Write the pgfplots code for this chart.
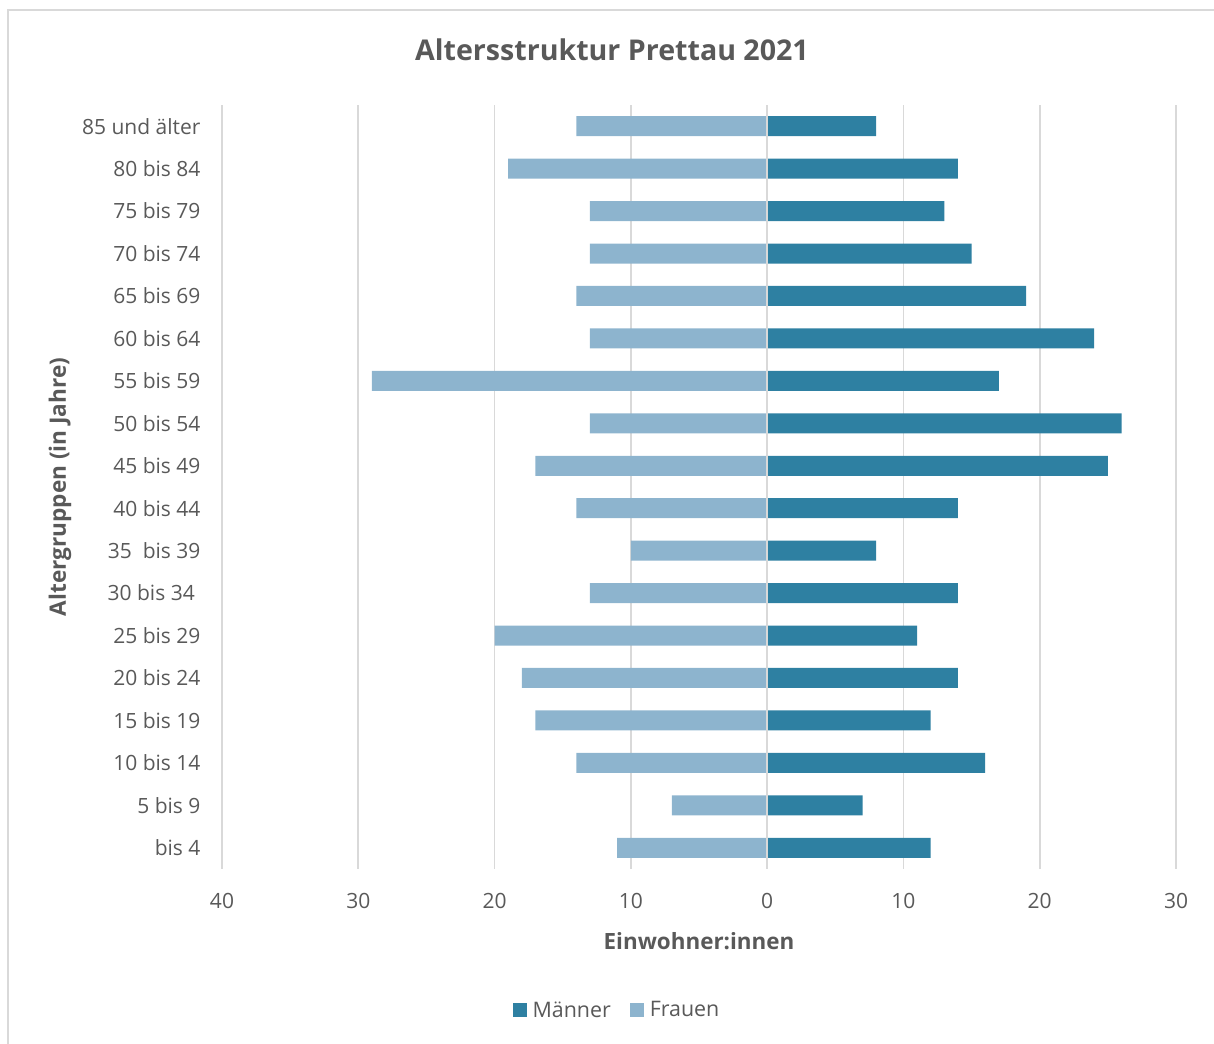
\documentclass[border=0pt]{standalone}
\usepackage{pgfplots}
\pgfplotsset{compat=1.18}
\usepackage{pgfplotstable}
\usepackage{fontspec}
\setmainfont{Open Sans}
\definecolor{maenner}{HTML}{2E80A2}
\definecolor{frauen}{HTML}{8DB4CE}
\definecolor{txt}{HTML}{595959}
\definecolor{gridc}{HTML}{D9D9D9}
\definecolor{framec}{HTML}{D9D9D9}

\pgfplotstableread{
idx maenner frauen
0 12 -11
1 7 -7
2 16 -14
3 12 -17
4 14 -18
5 11 -20
6 14 -13
7 8 -10
8 14 -14
9 25 -17
10 26 -13
11 17 -29
12 24 -13
13 19 -14
14 15 -13
15 13 -13
16 14 -19
17 8 -14
}\pyramid

\begin{document}
\begin{tikzpicture}[x=1pt,y=1pt]
\path[use as bounding box] (0,0) rectangle (1214,1043);
\draw[framec, line width=1.5pt] (8,-5) -- (8,1033) -- (1220,1033);
\node[txt, font=\bfseries\fontsize{28.6}{34}\selectfont] at (612,993) {Altersstruktur Prettau 2021};
\node[txt, font=\bfseries\fontsize{22.6}{27}\selectfont, rotate=90] at (60,556) {Altergruppen (in Jahre)};
\node[txt, font=\bfseries\fontsize{22.4}{27}\selectfont] at (699,102) {Einwohner:innen};
\begin{axis}[
  at={(222pt,174pt)}, anchor=south west,
  scale only axis, width=954pt, height=764pt,
  xmin=-40, xmax=30, ymin=-0.5, ymax=17.5,
  xtick={-40,-30,...,30},
  xticklabel={\pgfmathparse{abs(\tick)}\pgfmathprintnumber{\pgfmathresult}},
  ytick={0,...,17},
  yticklabels={bis 4,5 bis 9,10 bis 14,15 bis 19,20 bis 24,25 bis 29,{30 bis 34\kern0.27em},35\ \ bis 39,40 bis 44,45 bis 49,50 bis 54,55 bis 59,60 bis 64,65 bis 69,70 bis 74,75 bis 79,80 bis 84,85 und älter},
  /pgf/number format/assume math mode=true,
  tick label style={font=\fontsize{21}{25}\selectfont, text=txt},
  xticklabel style={yshift=-21pt},
  yticklabel style={xshift=-18pt},
  major tick length=0pt,
  axis line style={draw=none},
  xmajorgrids, ymajorgrids=false,
  major grid style={draw=gridc, line width=1.6pt},
  xbar, bar width=20pt, bar shift=0pt,
  legend style={at={(0.414,-0.1846)}, anchor=center, draw=none, legend columns=2,
    font=\fontsize{21.4}{25}\selectfont, text=txt,
    /tikz/every odd column/.append style={column sep=4pt},
    /tikz/every even column/.append style={column sep=17pt}},
  legend image code/.code={\fill (0pt,-7pt) rectangle (14pt,7pt);},
]
\addplot[fill=maenner, draw=none] table[x=maenner, y=idx] {\pyramid};
\addlegendentry{Männer}
\addplot[fill=frauen, draw=none] table[x=frauen, y=idx] {\pyramid};
\addlegendentry{Frauen}
\draw[gridc, line width=1.6pt] (axis cs:0,-0.5) -- (axis cs:0,17.5);
\end{axis}
\end{tikzpicture}
\end{document}
